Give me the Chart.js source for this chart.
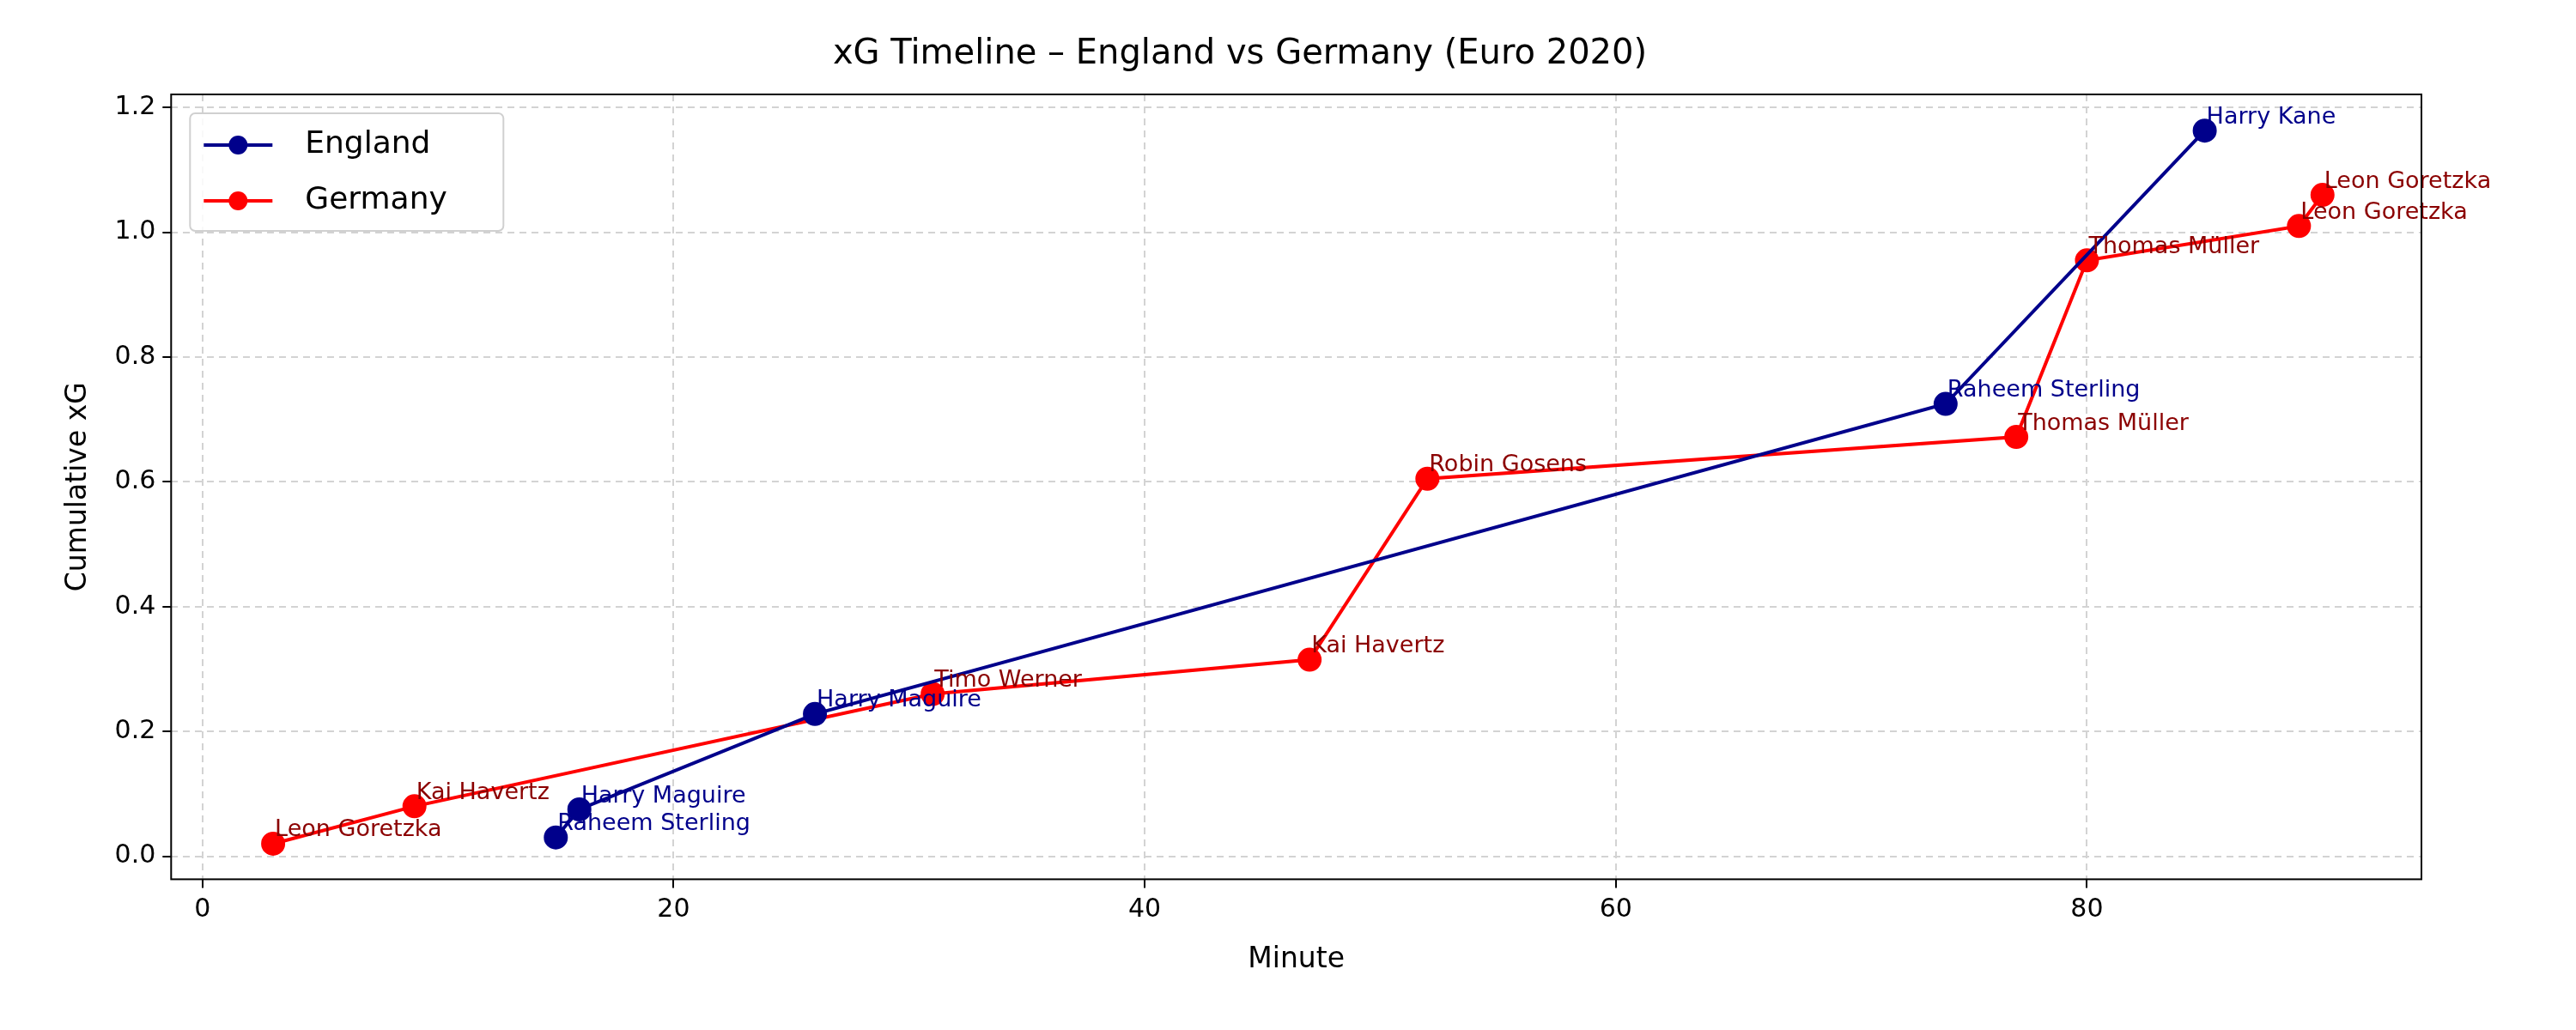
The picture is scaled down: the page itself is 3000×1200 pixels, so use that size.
<!DOCTYPE html>
<html>
<head>
<meta charset="utf-8">
<script src="https://cdn.jsdelivr.net/npm/chart.js@4"></script>
<style>
  html, body { margin: 0; padding: 0; background: #fff; }
  #wrap { width: 3000px; height: 1200px; }
</style>
</head>
<body>
<div id="wrap"><canvas id="chart" width="3000" height="1200"></canvas></div>
<script>
// England / Germany cumulative xG by minute
const englandMinutes = [15, 16, 26, 74, 85];
const englandXg = [0.03, 0.075, 0.228, 0.725, 1.163];
const englandPlayers = ["Raheem Sterling", "Harry Maguire", "Harry Maguire", "Raheem Sterling", "Harry Kane"];

const germanyMinutes = [3, 9, 31, 47, 52, 77, 80, 89, 90];
const germanyXg = [0.02, 0.08, 0.26, 0.315, 0.605, 0.672, 0.955, 1.01, 1.06];
const germanyPlayers = ["Leon Goretzka", "Kai Havertz", "Timo Werner", "Kai Havertz", "Robin Gosens",
  "Thomas Müller", "Thomas Müller", "Leon Goretzka", "Leon Goretzka"];

const xTicks = [0, 20, 40, 60, 80];
const yTicks = [0.0, 0.2, 0.4, 0.6, 0.8, 1.0, 1.2];

const FONT = "'DejaVu Sans', sans-serif";
const toPts = (xs, ys) => xs.map((x, i) => ({ x, y: ys[i] }));

const labelsPlugin = {
  id: "pointLabels",
  afterDatasetsDraw(chart) {
    const ctx = chart.ctx;
    const cols = ["#00008b", "#8b0000"];
    const names = [englandPlayers, germanyPlayers];
    ctx.save();
    ctx.font = "27px " + FONT;
    ctx.textBaseline = "bottom";
    ctx.textAlign = "left";
    chart.data.datasets.forEach((ds, di) => {
      chart.getDatasetMeta(di).data.forEach((pt, i) => {
        ctx.fillStyle = cols[di];
        ctx.fillText(names[di][i], pt.x + 2, pt.y - 2);
      });
    });
    ctx.restore();
  },
};

const frameLegendPlugin = {
  id: "frameLegend",
  afterDraw(chart) {
    const { ctx, chartArea: a } = chart;
    ctx.save();
    ctx.strokeStyle = "#000";
    ctx.lineWidth = 2;
    ctx.strokeRect(a.left, a.top, a.right - a.left, a.bottom - a.top);
    // legend box
    const bx = a.left + 22, by = a.top + 22, bw = 365, bh = 137;
    ctx.fillStyle = "rgba(255,255,255,0.85)";
    ctx.strokeStyle = "#d0d0d0";
    ctx.lineWidth = 2;
    ctx.beginPath();
    ctx.roundRect(bx, by, bw, bh, 6);
    ctx.fill();
    ctx.stroke();
    const items = [["England", "#00008b"], ["Germany", "#ff0000"]];
    ctx.font = "36px " + FONT;
    ctx.textBaseline = "middle";
    items.forEach(([name, c], i) => {
      const y = by + 37 + i * 65;
      ctx.strokeStyle = c;
      ctx.lineWidth = 4;
      ctx.beginPath();
      ctx.moveTo(bx + 16, y);
      ctx.lineTo(bx + 96, y);
      ctx.stroke();
      ctx.fillStyle = c;
      ctx.beginPath();
      ctx.arc(bx + 56, y, 11, 0, Math.PI * 2);
      ctx.fill();
      ctx.fillStyle = "#000";
      ctx.fillText(name, bx + 134, y);
    });
    ctx.restore();
  },
};

const grid = { color: "#d3d3d3", lineWidth: 2, tickLength: 10, tickColor: "#000" };

new Chart(document.getElementById("chart"), {
  type: "line",
  data: {
    datasets: [
      {
        label: "England",
        data: toPts(englandMinutes, englandXg),
        borderColor: "#00008b",
        backgroundColor: "#00008b",
        borderWidth: 4,
        pointRadius: 12,
        pointHoverRadius: 12,
        tension: 0,
      },
      {
        label: "Germany",
        data: toPts(germanyMinutes, germanyXg),
        borderColor: "#ff0000",
        backgroundColor: "#ff0000",
        borderWidth: 4,
        pointRadius: 12,
        pointHoverRadius: 12,
        tension: 0,
      },
    ],
  },
  options: {
    responsive: false,
    animation: false,
    devicePixelRatio: 1,
    layout: { padding: { left: 68, right: 180, top: 40, bottom: 58 } },
    plugins: {
      legend: { display: false },
      tooltip: { enabled: false },
      title: {
        display: true,
        text: "xG Timeline – England vs Germany (Euro 2020)",
        color: "#000",
        font: { family: FONT, size: 40, weight: "normal" },
        padding: { bottom: 22 },
      },
    },
    scales: {
      x: {
        type: "linear",
        min: -1.33,
        max: 94.2,
        afterBuildTicks: (s) => { s.ticks = xTicks.map((v) => ({ value: v })); },
        grid,
        border: { display: false, dash: [8, 6] },
        ticks: { color: "#000", font: { family: FONT, size: 30 }, padding: 8 },
        title: { display: true, text: "Minute", color: "#000", font: { family: FONT, size: 33 }, padding: { top: 12 } },
      },
      y: {
        min: -0.037,
        max: 1.221,
        afterBuildTicks: (s) => { s.ticks = yTicks.map((v) => ({ value: v })); },
        grid,
        border: { display: false, dash: [8, 6] },
        ticks: { color: "#000", font: { family: FONT, size: 30 }, padding: 8, callback: (v) => v.toFixed(1) },
        title: { display: true, text: "Cumulative xG", color: "#000", font: { family: FONT, size: 33 }, padding: { bottom: 14 } },
      },
    },
  },
  plugins: [labelsPlugin, frameLegendPlugin],
});
</script>
</body>
</html>
